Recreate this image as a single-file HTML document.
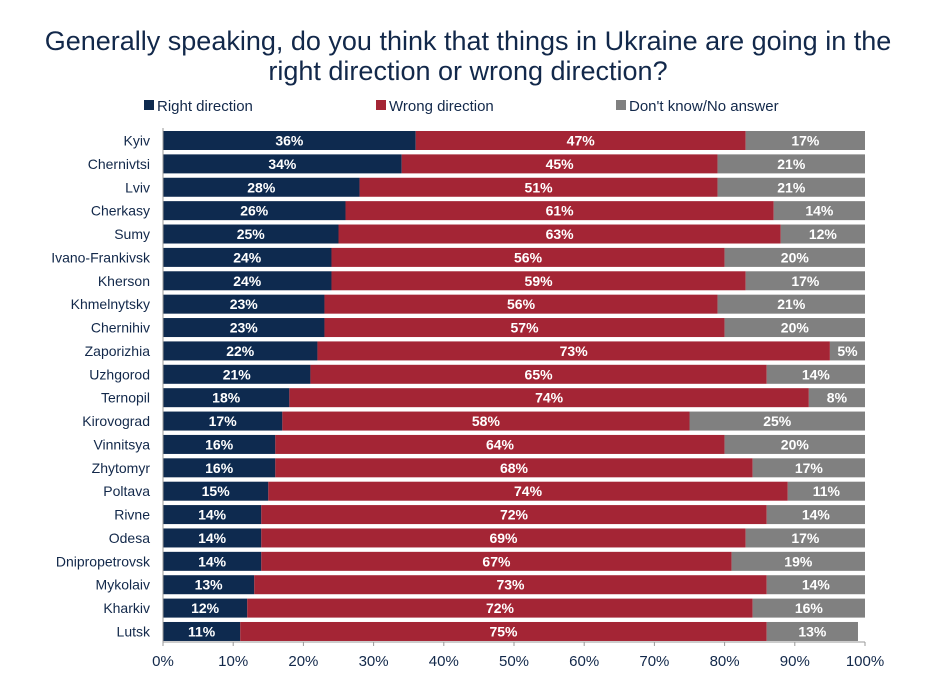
<!DOCTYPE html>
<html><head><meta charset="utf-8"><style>
body{margin:0;background:#fff;width:937px;height:668px;overflow:hidden;font-family:"Liberation Sans",sans-serif}
</style></head><body>
<svg id="c" width="937" height="668" xmlns="http://www.w3.org/2000/svg" font-family="Liberation Sans, sans-serif">
<text x="468" y="50" text-anchor="middle" font-size="27" fill="#12284a">Generally speaking, do you think that things in Ukraine are going in the</text>
<text x="468" y="80" text-anchor="middle" font-size="27" fill="#12284a">right direction or wrong direction?</text>
<g font-size="15" fill="#12284a">
<rect x="144" y="100" width="10" height="10" fill="#0e2a4f"/>
<text x="157" y="111">Right direction</text>
<rect x="376" y="100" width="10" height="10" fill="#a42535"/>
<text x="389" y="111">Wrong direction</text>
<rect x="616" y="100" width="10" height="10" fill="#808080"/>
<text x="629" y="111">Don't know/No answer</text>
</g>
<g id="plot"></g>
</svg>
<script>
const regions=["Kyiv","Chernivtsi","Lviv","Cherkasy","Sumy","Ivano-Frankivsk","Kherson","Khmelnytsky","Chernihiv","Zaporizhia","Uzhgorod","Ternopil","Kirovograd","Vinnitsya","Zhytomyr","Poltava","Rivne","Odesa","Dnipropetrovsk","Mykolaiv","Kharkiv","Lutsk"];
const rightVals=[36,34,28,26,25,24,24,23,23,22,21,18,17,16,16,15,14,14,14,13,12,11];
const wrongVals=[47,45,51,61,63,56,59,56,57,73,65,74,58,64,68,74,72,69,67,73,72,75];
const dkVals=[17,21,21,14,12,20,17,21,20,5,14,8,25,20,17,11,14,17,19,14,16,13];
const ticks=[0,10,20,30,40,50,60,70,80,90,100];
const X0=163,X1=865,Y0=131,STEP=23.38,BH=19;
const xs=v=>X0+(X1-X0)*v/100;
const ys=i=>Y0+i*STEP;
const NS="http://www.w3.org/2000/svg";
const g=document.getElementById('plot');
function mk(tag,attrs){const e=document.createElementNS(NS,tag);for(const k in attrs)e.setAttribute(k,attrs[k]);g.appendChild(e);return e;}
const series=[[rightVals,"#0e2a4f","right"],[wrongVals,"#a42535","wrong"],[dkVals,"#808080","dk"]];
regions.forEach((r,i)=>{
  const y=ys(i);
  const lab=mk('text',{x:150,y:y+BH/2+5,'text-anchor':'end','font-size':14,fill:'#12284a'});
  lab.textContent=r;
  
  
  let cum=0;
  series.forEach(([vals,col,nm])=>{
    const v=vals[i];
    const a=Math.min(cum,100),b=Math.min(cum+v,100);
    const rc=mk('rect',{x:xs(a),y:y,width:Math.max(0,xs(b)-xs(a)),height:BH,fill:col});
    
    
    const t=mk('text',{x:(xs(a)+xs(b))/2,y:y+BH/2+5,'text-anchor':'middle','font-size':14,'font-weight':'bold',fill:'#fff'});
    t.textContent=v+'%';
    
    
    cum+=v;
  });
});
const ax=mk('line',{x1:X0,x2:X1,y1:642,y2:642,stroke:'#999'});


const yax=mk('line',{x1:X0,x2:X0,y1:Y0-3,y2:642,stroke:'#999'});


ticks.forEach(t=>{
  const tk=mk('line',{x1:xs(t),x2:xs(t),y1:642,y2:646,stroke:'#999'});
  
  
  const tl=mk('text',{x:xs(t),y:666,'text-anchor':'middle','font-size':15,fill:'#12284a'});
  tl.textContent=t+'%';
  
  
});
</script>
</body></html>
